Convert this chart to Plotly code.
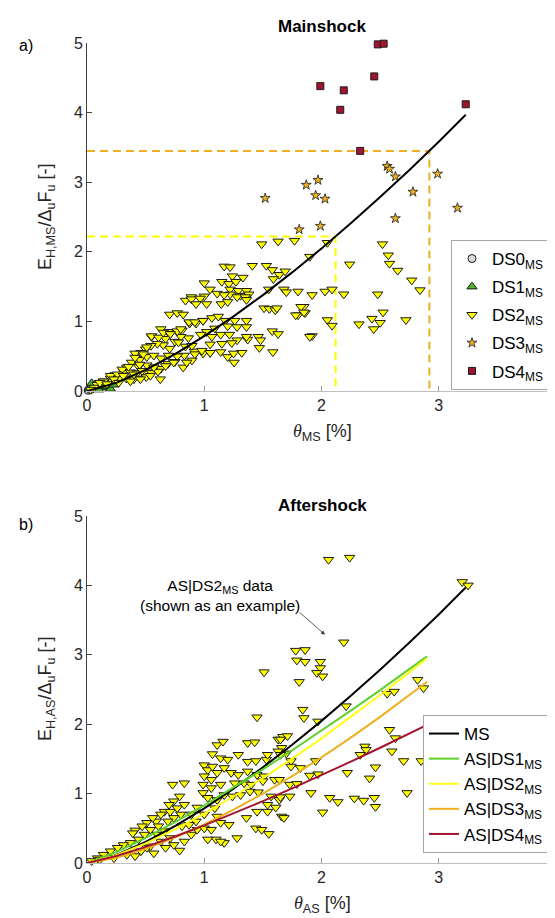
import plotly.graph_objects as go

# ---------------- data ----------------
# Panel a) Mainshock : (theta_MS [%], E_H,MS / (Delta_u F_u))
ms_ds0 = [(0.01, 0.01), (0.03, 0.02)]
ms_ds1 = [(0.02, 0.03), (0.05, 0.06), (0.08, 0.08), (0.12, 0.10), (0.16, 0.05),
          (0.20, 0.03), (0.23, 0.09), (0.04, 0.11), (0.10, 0.02), (0.14, 0.07)]
ms_ds2 = [
    (1.49, 2.11), (1.63, 2.15), (1.77, 2.16), (2.05, 2.13), (1.90, 1.93), (2.52, 2.11),
    (2.57, 1.95), (2.58, 1.83), (2.65, 1.73), (2.24, 1.82), (2.77, 1.59), (2.84, 1.45),
    (1.17, 1.79), (1.22, 1.78), (1.41, 1.80), (1.53, 1.80), (1.58, 1.74), (1.64, 1.67),
    (1.69, 1.72), (1.24, 1.65), (1.33, 1.63), (1.59, 1.61), (1.00, 1.55), (1.05, 1.46),
    (1.15, 1.57), (1.21, 1.54), (1.27, 1.57), (1.22, 1.46), (1.29, 1.44), (1.36, 1.44),
    (1.55, 1.46), (1.68, 1.46), (1.70, 1.42), (1.80, 1.43), (1.92, 1.38), (2.03, 1.43),
    (2.09, 1.46), (2.19, 1.39), (2.48, 1.39), (0.89, 1.35), (1.00, 1.36), (1.22, 1.39),
    (1.31, 1.37), (1.38, 1.39),
    (1.85, 1.21), (1.80, 1.09), (1.86, 1.12), (2.05, 1.02), (2.09, 0.94), (1.92, 0.79),
    (2.32, 0.96), (2.43, 1.04), (2.525, 1.13), (2.50, 0.98), (2.445, 0.89), (2.72, 1.02),
    (1.11, 1.40), (1.17, 1.38), (1.28, 1.35), (1.35, 1.35), (1.36, 1.31), (1.145, 1.25),
    (1.20, 1.28), (1.825, 1.21), (1.85, 1.13), (1.78, 1.09), (1.90, 0.78), (0.84, 1.30),
    (0.89, 1.32), (0.965, 1.33), (0.93, 1.25), (1.02, 1.25), (1.51, 1.19), (1.555, 1.18),
    (1.605, 1.16), (1.62, 1.19), (0.705, 1.10), (0.77, 1.12), (0.82, 1.10), (0.875, 0.97),
    (0.93, 0.97), (0.99, 1.01), (1.065, 1.05), (1.12, 1.07), (1.18, 1.01), (1.26, 1.01),
    (1.36, 1.01), (1.09, 0.90), (1.20, 0.93), (1.28, 0.92), (1.36, 0.92), (1.14, 0.81),
    (1.215, 0.81), (1.28, 0.73), (1.37, 0.74), (1.46, 0.78), (1.48, 0.73), (1.47, 0.62),
    (1.58, 0.86), (1.63, 0.82), (1.585, 0.56), (1.14, 0.56), (1.20, 0.49), (1.255, 0.41),
    (1.32, 0.55), (1.05, 0.55), (0.99, 0.54), (0.915, 0.57), (0.865, 0.76), (0.80, 0.78),
    (0.75, 0.71), (0.69, 0.85), (0.63, 0.89), (0.55, 0.78), (0.67, 0.75), (0.71, 0.82),
    (0.77, 0.86), (0.81, 0.87), (0.78, 0.70), (0.84, 0.64), (0.895, 0.65), (0.895, 0.44),
    (0.83, 0.51), (0.77, 0.50), (0.705, 0.61), (0.65, 0.66), (0.60, 0.68), (0.545, 0.65),
    (0.50, 0.60), (0.46, 0.55), (0.41, 0.54), (0.45, 0.45), (0.51, 0.49), (0.57, 0.51),
    (0.63, 0.47), (0.69, 0.39), (0.75, 0.42), (0.63, 0.32), (0.57, 0.34), (0.51, 0.37),
    (0.44, 0.35), (0.38, 0.41), (0.34, 0.34), (0.31, 0.28), (0.37, 0.27), (0.43, 0.26),
    (0.50, 0.27), (0.55, 0.26), (0.24, 0.23), (0.28, 0.19), (0.20, 0.18), (0.14, 0.14),
    (0.10, 0.11), (0.335, 0.18), (0.40, 0.17), (0.455, 0.18), (0.505, 0.20), (0.605, 0.28),
    (0.695, 0.51), (1.02, 0.85), (0.97, 0.81), (1.065, 0.78), (1.15, 0.68), (1.235, 0.69),
    (1.36, 0.78), (1.25, 0.54),
    (0.55, 0.79), (0.61, 0.77), (0.65, 0.84), (0.71, 0.82), (0.80, 0.89), (0.87, 0.99),
    (0.92, 0.99), (0.99, 1.01), (0.41, 0.48), (0.48, 0.53), (0.30, 0.31), (0.355, 0.35),
    (0.20, 0.22), (0.26, 0.24), (0.14, 0.14), (0.085, 0.09), (0.06, 0.05), (0.03, 0.02),
    (0.11, 0.12), (0.23, 0.17), (0.31, 0.22), (0.40, 0.24), (0.47, 0.29), (0.37, 0.14),
    (0.455, 0.17), (0.54, 0.22), (0.625, 0.17), (0.57, 0.34), (0.67, 0.36), (0.74, 0.41),
    (0.82, 0.34), (0.85, 0.41), (0.92, 0.53), (0.98, 0.58), (1.05, 0.67), (1.05, 0.55),
    (0.51, 0.63), (0.45, 0.38), (0.27, 0.12), (0.17, 0.10),
]
ms_ds3 = [(2.56, 3.23), (2.58, 3.19), (2.63, 3.08), (1.87, 2.96), (1.97, 3.03),
          (1.95, 2.81), (2.03, 2.76), (1.52, 2.77), (1.81, 2.32), (1.99, 2.37),
          (2.63, 2.48), (2.78, 2.86), (2.99, 3.12), (3.16, 2.63)]
ms_ds4 = [(1.99, 4.38), (2.16, 4.04), (2.19, 4.32), (2.45, 4.52), (2.48, 4.98),
          (2.53, 4.99), (3.23, 4.12), (2.33, 3.45)]

# fitted MS curve
ms_curve_theta = [0, 0.25, 0.5, 0.75, 1.0, 1.25, 1.5, 1.75, 2.0, 2.25, 2.5, 2.75, 3.0, 3.23]
ms_curve_E = [0, 0.117, 0.303, 0.530, 0.788, 1.072, 1.378, 1.704, 2.048, 2.409, 2.786,
              3.176, 3.581, 3.97]

# guide lines (theta, E) for DS2 and DS3 thresholds
guide_ds2 = (2.12, 2.22)
guide_ds3 = (2.92, 3.45)

# Panel b) Aftershock: AS|DS2_MS data
as_ds2 = [
    (1.51, 2.75), (1.45, 2.10), (1.63, 1.78), (1.67, 1.82), (1.66, 1.66), (1.63, 1.61),
    (1.11, 1.70), (1.16, 1.75), (1.07, 1.57), (1.14, 1.51), (1.20, 1.49), (1.29, 1.56),
    (1.37, 1.73), (1.43, 1.74), (1.37, 1.46), (1.44, 1.47), (1.53, 1.49), (1.54, 1.56),
    (1.00, 1.41), (1.03, 1.34), (1.07, 1.39), (1.11, 1.30), (1.17, 1.37), (1.23, 1.30),
    (1.29, 1.27), (1.37, 1.32), (1.45, 1.27), (1.51, 1.25), (1.00, 1.25), (1.06, 1.20),
    (0.99, 1.13), (1.06, 1.08), (1.14, 1.13), (1.26, 1.15), (1.34, 1.15), (1.40, 1.13),
    (1.50, 1.18), (1.60, 1.20), (0.99, 1.01), (1.03, 0.94), (1.11, 0.91), (1.17, 0.98),
    (1.24, 0.96), (1.31, 0.98), (1.39, 1.03), (1.46, 1.02), (1.57, 0.96), (1.64, 0.91),
    (1.54, 0.84), (1.61, 0.80), (1.54, 0.74), (1.66, 0.67), (1.45, 0.74), (1.36, 0.65),
    (1.44, 0.50), (1.49, 0.48), (1.55, 0.42), (1.28, 0.36), (1.17, 0.29), (1.10, 0.34),
    (1.03, 0.34), (1.21, 0.55), (1.14, 0.58), (1.11, 0.67), (1.09, 0.79), (1.00, 0.70),
    (0.94, 0.80), (0.89, 0.70), (0.73, 1.13), (0.83, 1.15), (0.79, 0.96), (0.74, 0.89),
    (0.70, 0.84), (0.66, 0.74), (0.63, 0.70), (0.59, 0.60), (0.56, 0.65), (0.51, 0.58),
    (0.47, 0.53), (0.41, 0.47), (0.39, 0.43), (0.71, 0.74), (0.77, 0.79), (0.83, 0.84),
    (0.80, 0.70), (0.74, 0.65), (0.69, 0.60), (0.61, 0.53), (0.54, 0.48), (0.49, 0.41),
    (0.44, 0.34), (0.37, 0.29), (0.31, 0.26), (0.26, 0.22), (0.20, 0.17), (0.14, 0.12),
    (0.09, 0.07), (0.04, 0.03), (0.11, 0.05), (0.23, 0.07), (0.34, 0.12), (0.46, 0.17),
    (0.54, 0.24), (0.63, 0.31), (0.71, 0.36), (0.79, 0.18), (0.83, 0.31), (0.89, 0.41),
    (0.94, 0.48), (0.74, 0.26), (0.67, 0.22), (0.57, 0.14), (0.41, 0.10), (0.51, 0.22),
    (0.60, 0.41), (0.66, 0.46), (0.93, 0.60), (0.81, 0.53), (0.87, 0.55), (1.00, 0.50),
    (1.06, 0.48), (1.14, 0.31),
    (2.06, 4.37), (2.24, 4.40), (2.19, 3.18), (1.78, 3.06), (1.86, 3.07), (1.79, 2.92),
    (1.86, 2.90), (1.99, 2.90), (1.99, 2.81), (1.96, 2.74), (2.01, 2.69), (1.81, 2.61),
    (2.82, 2.64), (2.87, 2.52), (2.56, 2.44), (2.62, 2.47), (2.21, 2.26), (1.84, 2.21),
    (1.85, 2.09), (1.97, 2.04), (2.58, 1.92), (2.63, 1.80), (2.37, 1.68), (2.38, 1.63),
    (2.33, 1.56), (2.60, 1.61), (2.70, 1.47), (2.85, 1.47), (2.46, 1.38), (2.41, 1.22),
    (2.22, 1.30), (1.97, 1.28), (1.90, 1.26), (1.95, 1.47), (1.91, 1.01), (2.01, 0.73),
    (2.07, 0.94), (2.14, 0.88), (2.28, 0.93), (2.36, 0.90), (2.45, 0.94), (2.46, 0.81),
    (2.73, 1.01), (1.74, 1.47), (1.70, 1.58), (1.71, 1.83), (1.65, 1.78), (1.74, 1.39),
    (1.82, 1.37), (1.65, 1.56), (1.64, 1.20), (1.73, 1.13), (1.79, 1.14), (1.65, 0.95),
    (1.73, 0.96), (1.68, 0.65), (3.20, 4.05), (3.25, 4.00),
]

as_curve_theta = [0, 0.25, 0.5, 0.75, 1.0, 1.25, 1.5, 1.75, 2.0, 2.25, 2.5, 2.75, 2.9]
as_ds1_E = [0, 0.157, 0.361, 0.588, 0.830, 1.085, 1.350, 1.625, 1.907, 2.196, 2.492, 2.795, 2.978]
as_ds2_E = [0, 0.111, 0.281, 0.484, 0.711, 0.958, 1.223, 1.503, 1.796, 2.102, 2.421, 2.750, 2.951]
as_ds3_E = [0, 0.074, 0.203, 0.365, 0.555, 0.768, 1.001, 1.253, 1.522, 1.806, 2.105, 2.419, 2.612]
as_ds4_E = [0, 0.100, 0.233, 0.382, 0.543, 0.713, 0.891, 1.075, 1.265, 1.460, 1.661, 1.866, 1.990]

x_ticks = [0, 1, 2, 3, 4]
y_ticks = [0, 1, 2, 3, 4, 5]

# ---------------- styling ----------------
FONT = "Liberation Sans"
TXT = "#262626"
C_DS0 = "#d9d9d9"
C_DS1 = "#4fb52a"
C_DS2 = "#ffff00"
C_DS3 = "#edb120"
C_DS4 = "#a2142f"
C_AS1 = "#5fd02c"
C_AS2 = "#ffff1a"
C_AS3 = "#edb120"
C_AS4 = "#a2142f"

W, H = 555.0, 918.0
ML, MR = 79, 7
PW = W - ML - MR


def px_x(p):
    return (p - ML) / PW


def px_y(p):
    return (H - p) / H


def xs(p):
    return [a for a, _ in p]


def ys(p):
    return [b for _, b in p]


fig = go.Figure()

# guide dashed lines (panel a)
for (gx, gy), col in [(guide_ds2, C_DS2), (guide_ds3, C_DS3)]:
    fig.add_trace(go.Scatter(x=[0, gx, gx], y=[gy, gy, 0], mode="lines",
                             line=dict(color=col, width=2, dash="8px,5px"),
                             showlegend=False, hoverinfo="skip", xaxis="x", yaxis="y"))


def mtrace(pts, name, symbol, color, size, lw=1.0, legend="legend", show=True):
    return go.Scatter(x=xs(pts), y=ys(pts), mode="markers", name=name,
                      marker=dict(symbol=symbol, color=color, size=size,
                                  line=dict(color="#1a1a1a", width=lw)),
                      cliponaxis=False, showlegend=show, legend=legend,
                      legendgroup=name)


fig.add_trace(mtrace(ms_ds0, "DS0<sub>MS</sub>", "circle", C_DS0, 8))
fig.add_trace(mtrace(ms_ds1, "DS1<sub>MS</sub>", "triangle-up", C_DS1, 9))
fig.add_trace(mtrace(ms_ds2, "DS2<sub>MS</sub>", "triangle-down", C_DS2, 9))
fig.add_trace(mtrace(ms_ds3, "DS3<sub>MS</sub>", "star", C_DS3, 7.5, lw=0.8))
fig.add_trace(mtrace(ms_ds4, "DS4<sub>MS</sub>", "square", C_DS4, 7))

fig.add_trace(go.Scatter(x=ms_curve_theta, y=ms_curve_E, mode="lines",
                         line=dict(color="black", width=2), showlegend=False,
                         xaxis="x", yaxis="y"))

# panel b
t = mtrace(as_ds2, "AS|DS2 data", "triangle-down", C_DS2, 9, show=False)
t.update(xaxis="x2", yaxis="y2")
fig.add_trace(t)

for E, name, col in [(None, "MS", "black"),
                     (as_ds1_E, "AS|DS1<sub>MS</sub>", C_AS1),
                     (as_ds2_E, "AS|DS2<sub>MS</sub>", C_AS2),
                     (as_ds3_E, "AS|DS3<sub>MS</sub>", C_AS3),
                     (as_ds4_E, "AS|DS4<sub>MS</sub>", C_AS4)]:
    if E is None:
        xx, yy = ms_curve_theta, ms_curve_E
    else:
        xx, yy = as_curve_theta, E
    fig.add_trace(go.Scatter(x=xx, y=yy, mode="lines", name=name,
                             line=dict(color=col, width=2), legend="legend2",
                             legendgroup=name, xaxis="x2", yaxis="y2"))


def ydom(top_px, bot_px):
    return [(H - bot_px) / H, (H - top_px) / H]


axis_common = dict(range=[0, 4], tickvals=x_ticks, ticks="inside", ticklen=5,
                   showgrid=False, zeroline=False, showline=True, linecolor="#c0c0c0",
                   tickcolor="#9a9a9a", linewidth=1, ticklabeloverflow="allow",
                   tickfont=dict(family=FONT, size=16, color=TXT), automargin=False)
yaxis_common = dict(range=[0, 5], tickvals=y_ticks, ticks="inside", ticklen=5,
                    showgrid=False, zeroline=False, showline=True, linecolor="#404040",
                    tickcolor="#404040", linewidth=1,
                    tickfont=dict(family=FONT, size=16, color=TXT), automargin=False)

fig.update_layout(
    width=555, height=918,
    margin=dict(l=ML, r=MR, t=0, b=0),
    paper_bgcolor="white", plot_bgcolor="white",
    font=dict(family=FONT, color=TXT),
    xaxis=dict(domain=[0, 1], anchor="y", **axis_common),
    yaxis=dict(domain=ydom(35, 383), anchor="x", **yaxis_common),
    xaxis2=dict(domain=[0, 1], anchor="y2", **axis_common),
    yaxis2=dict(domain=ydom(508, 855), anchor="x2", **yaxis_common),
    legend=dict(x=px_x(541), y=px_y(382), xanchor="right", yanchor="bottom",
                bordercolor="#a6a6a6", borderwidth=1, bgcolor="white",
                font=dict(family=FONT, size=17, color="black"), tracegroupgap=3,
                itemwidth=30),
    legend2=dict(x=px_x(541), y=px_y(845), xanchor="right", yanchor="bottom",
                 bordercolor="#a6a6a6", borderwidth=1, bgcolor="white",
                 font=dict(family=FONT, size=17, color="black"), tracegroupgap=0,
                 itemwidth=30),
    showlegend=True,
)


def label(text, xp, yp, size, color="black", angle=0, align="center"):
    return dict(text=text, x=px_x(xp), y=px_y(yp), xref="paper", yref="paper",
                xanchor="center", yanchor="middle", showarrow=False, textangle=angle,
                align=align, font=dict(family=FONT, size=size, color=color))


ann = []
ann.append(label("<b>Mainshock</b>", 314, 18, 17))
ann.append(label("<b>Aftershock</b>", 314, 497, 17))
ann.append(label("a)", 18, 37, 16))
ann.append(label("b)", 18, 516, 16))
theta = '<span style="font-family:Liberation Serif;font-style:italic">θ</span>'
ann.append(label(theta + "<sub>MS</sub> [%]", 314, 425, 18, TXT))
ann.append(label(theta + "<sub>AS</sub> [%]", 314, 896, 18, TXT))
ann.append(label("E<sub>H,MS</sub>/Δ<sub>u</sub>F<sub>u</sub> [-]", 38, 209, 18, TXT, angle=-90))
ann.append(label("E<sub>H,AS</sub>/Δ<sub>u</sub>F<sub>u</sub> [-]", 38, 681, 18, TXT, angle=-90))
ann.append(label("AS|DS2<sub>MS</sub> data<br>(shown as an example)", 212, 587, 15.5))
ann.append(dict(text="", x=2.03, y=3.29, xref="x2", yref="y2",
                ax=1.80, ay=3.63, axref="x2", ayref="y2", showarrow=True,
                arrowhead=2, arrowsize=1, arrowwidth=0.8, arrowcolor="#333333"))
fig.update_layout(annotations=ann)

fig.write_html("out.html")
